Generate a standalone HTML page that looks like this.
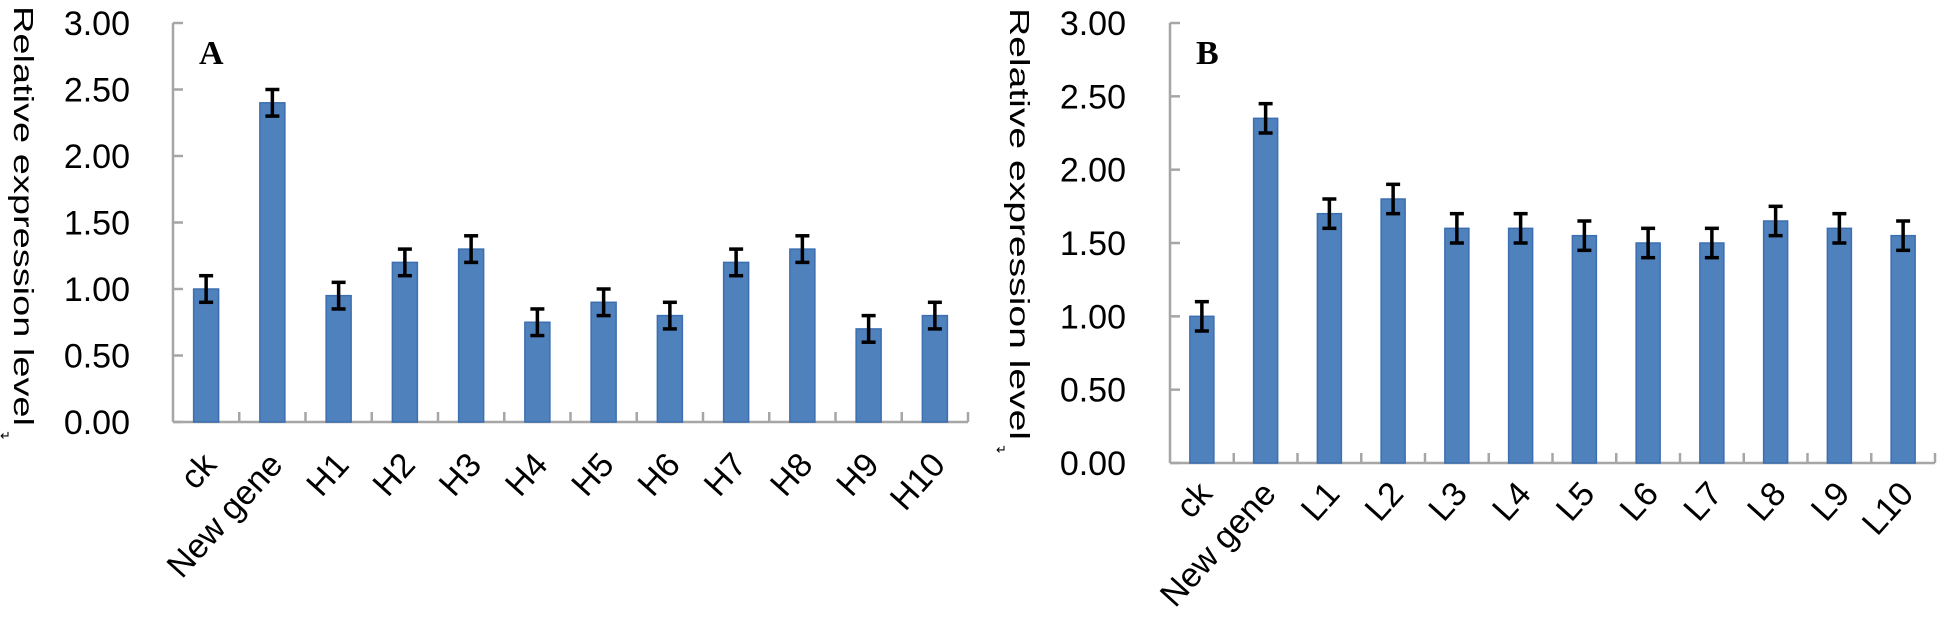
<!DOCTYPE html>
<html><head><meta charset="utf-8"><style>
html,body{margin:0;padding:0;background:#fff;}
svg{display:block;}
text{font-family:"Liberation Sans",sans-serif;fill:#000;}
</style></head><body>
<svg id="fig" width="1943" height="617" viewBox="0 0 1943 617"></svg>
<script>
const catsA = ["ck","New gene","H1","H2","H3","H4","H5","H6","H7","H8","H9","H10"];
const valsA = [1.00,2.40,0.95,1.20,1.30,0.75,0.90,0.80,1.20,1.30,0.70,0.80];
const errA  = [0.10,0.10,0.10,0.10,0.10,0.10,0.10,0.10,0.10,0.10,0.10,0.10];
const catsB = ["ck","New gene","L1","L2","L3","L4","L5","L6","L7","L8","L9","L10"];
const valsB = [1.00,2.35,1.70,1.80,1.60,1.60,1.55,1.50,1.50,1.65,1.60,1.55];
const errB  = [0.10,0.10,0.10,0.10,0.10,0.10,0.10,0.10,0.10,0.10,0.10,0.10];
const yTicks = [0,0.5,1,1.5,2,2.5,3];
const yTickLabels = ["0.00","0.50","1.00","1.50","2.00","2.50","3.00"];

const NS="http://www.w3.org/2000/svg";
const svg=document.getElementById('fig');
function mk(tag,attrs,parent){const e=document.createElementNS(NS,tag);for(const k in attrs)e.setAttribute(k,attrs[k]);(parent||svg).appendChild(e);return e;}

function drawChart(cfg,cats,vals,errs){
  const g=mk('g',{});
  
  
  const y=v=>cfg.y0-(v/3)*(cfg.y0-cfg.yTop);
  const cw=(cfg.x1-cfg.x0)/cats.length;
  const cx=i=>cfg.x0+cw*(i+0.5);
  const ya=mk('line',{x1:cfg.x0,y1:cfg.yTop,x2:cfg.x0,y2:cfg.y0,stroke:'#a6a6a6','stroke-width':2.5},g);
  
  
  const xa=mk('line',{x1:cfg.x0,y1:cfg.y0,x2:cfg.x1,y2:cfg.y0,stroke:'#a6a6a6','stroke-width':2.5},g);
  
  
  yTicks.forEach((t,i)=>{
    mk('line',{x1:cfg.x0,y1:y(t),x2:cfg.x0+10,y2:y(t),stroke:'#a6a6a6','stroke-width':2.5},g);
    const tl=mk('text',{x:cfg.labR,y:y(t)+12,'text-anchor':'end','font-size':34},g);
    tl.textContent=yTickLabels[i];
    
    
  });
  for(let i=1;i<=cats.length;i++){
    const tx=cfg.x0+cw*i;
    mk('line',{x1:tx,y1:cfg.y0,x2:tx,y2:cfg.y0-10,stroke:'#a6a6a6','stroke-width':2.5},g);
  }
  cats.forEach((c,i)=>{
    const bw=cfg.bw;
    const b=mk('rect',{x:cx(i)-bw/2,y:y(vals[i]),width:bw,height:cfg.y0-y(vals[i]),fill:'#4f81bd',stroke:'#3d6fb0','stroke-width':1.5},g);
    
    
    const eh=y(vals[i]+errs[i]), el=y(vals[i]-errs[i]);
    const eg=mk('g',{stroke:'#000','stroke-width':3.5},g);
    
    
    mk('line',{x1:cx(i),y1:eh,x2:cx(i),y2:el},eg);
    mk('line',{x1:cx(i)-7,y1:eh,x2:cx(i)+7,y2:eh},eg);
    mk('line',{x1:cx(i)-7,y1:el,x2:cx(i)+7,y2:el},eg);
    const ax=cx(i)+cfg.lx, ay=cfg.y0+cfg.ly;
    const t=mk('text',{x:ax,y:ay,'text-anchor':'end','font-size':34,transform:`rotate(-48 ${ax} ${ay})`},g);
    t.textContent=c;
    
    
  });
  const ttl=mk('text',{x:cfg.titleX,y:cfg.titleY,'font-size':28,transform:`rotate(90 ${cfg.titleX} ${cfg.titleY})`,textLength:cfg.titleLen,lengthAdjust:'spacingAndGlyphs'},g);
  ttl.textContent='Relative expression level';
  
  
  const ret=mk('text',{x:cfg.titleX-14,y:cfg.titleY+cfg.titleLen+14,'font-size':13,fill:'#888'},g);
  ret.textContent='↵';
  const pl=mk('text',{x:cfg.px,y:cfg.py,'font-size':34,'font-weight':'bold',style:'font-family:"Liberation Serif",serif'},g);
  pl.textContent=cfg.panel;
  
  
}

drawChart({id:'chart-a',x0:173,x1:968,yTop:23,y0:422,bw:25,labR:130,lx:12,ly:44,titleX:14,titleY:6,titleLen:420,px:199,py:64,panel:'A'},catsA,valsA,errA);
drawChart({id:'chart-b',x0:1170,x1:1935,yTop:23,y0:463,bw:24,labR:1126,lx:12,ly:32,titleX:1010,titleY:8,titleLen:432,px:1196,py:64,panel:'B'},catsB,valsB,errB);
</script>
</body></html>
